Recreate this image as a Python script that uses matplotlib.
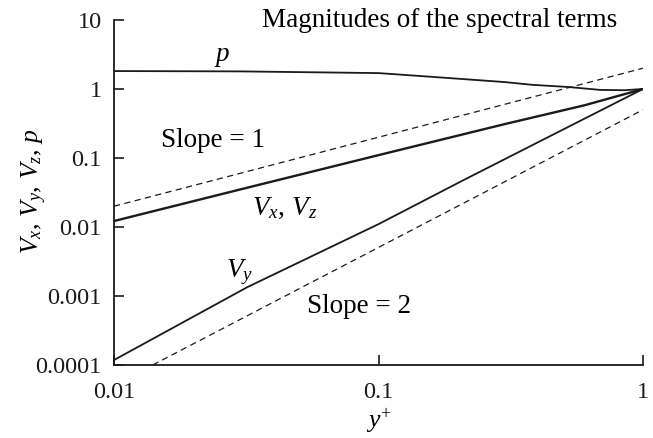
import matplotlib
matplotlib.use("Agg")
import matplotlib.pyplot as plt

plt.rcParams['font.family'] = ['Liberation Serif', 'DejaVu Serif']
plt.rcParams['mathtext.fontset'] = 'custom'
plt.rcParams['mathtext.rm'] = 'Liberation Serif'
plt.rcParams['mathtext.it'] = 'Liberation Serif:italic'

# Data
x_p = [0.01, 0.03, 0.1, 0.12, 0.216, 0.3, 0.38, 0.52, 0.69, 0.85, 1.0]
p_vals = [1.82, 1.80, 1.70, 1.62, 1.38, 1.26, 1.15, 1.07, 0.97, 0.96, 1.0]

x_vxz = [0.01, 0.03, 0.1, 0.3, 0.6, 1.0]
vxz_vals = [0.0122, 0.035, 0.11, 0.31, 0.58, 1.0]

x_vy = [0.01, 0.032, 0.1, 0.21, 0.5, 1.0]
vy_vals = [1.18e-4, 0.00135, 0.011, 0.048, 0.26, 1.0]

x_s1 = [0.01, 1.0]
s1_vals = [0.02, 2.0]
x_s2 = [0.014, 1.0]
s2_vals = [1e-4, 0.5]

xticks = [0.01, 0.1, 1]
xtick_labels = ['0.01', '0.1', '1']
yticks = [1e-4, 1e-3, 1e-2, 1e-1, 1, 10]
ytick_labels = ['0.0001', '0.001', '0.01', '0.1', '1', '10']

fig = plt.figure(figsize=(6.53, 4.38), dpi=100)
ax = fig.add_axes([114/653, 1-365/438, (643-114)/653, (365-20)/438])

ink = '#1a1a1a'
ax.plot(x_p, p_vals, color=ink, lw=1.3)
ax.plot(x_vxz, vxz_vals, color=ink, lw=1.7)
ax.plot(x_vy, vy_vals, color=ink, lw=1.3)
ax.plot(x_s1, s1_vals, color=ink, lw=0.9, dashes=(5, 3.5))
ax.plot(x_s2, s2_vals, color=ink, lw=0.9, dashes=(5, 3.5))

ax.set_xscale('log')
ax.set_yscale('log')
ax.set_xlim(0.01, 1)
ax.set_ylim(1e-4, 10)
ax.set_xticks(xticks)
ax.set_xticklabels(xtick_labels)
ax.set_yticks(yticks)
ax.set_yticklabels(ytick_labels)
ax.minorticks_off()
ax.tick_params(direction='in', length=7, width=1.2, labelsize=17.5, colors=ink)
ax.tick_params(axis='x', pad=12)
ax.tick_params(axis='y', pad=9)
for s in ['top', 'right']:
    ax.spines[s].set_visible(False)
for s in ['left', 'bottom']:
    ax.spines[s].set_linewidth(1.3)
    ax.spines[s].set_color(ink)

fs = 19.5
ax.text(0.0256, 3.0, r'$p$', fontsize=fs, ha='center', va='center')
ax.text(0.01506, 0.144, 'Slope = 1', fontsize=fs, ha='left', va='baseline')
ax.text(0.0443, 0.0188, r'$V_x,\,V_z$', fontsize=fs, ha='center', va='center')
ax.text(0.0297, 0.00223, r'$V_y$', fontsize=fs, ha='center', va='center')
ax.text(0.0537, 5.7e-4, 'Slope = 2', fontsize=fs, ha='left', va='baseline')

fig.text(440/653, 1-27/438, 'Magnitudes of the spectral terms', fontsize=fs,
         ha='center', va='baseline')
ax.set_xlabel(r'$y^{+}$', fontsize=18.5)
ax.xaxis.set_label_coords(0.5, -0.122)
ax.set_ylabel(r'$V_x,\,V_y,\,V_z,\,p$', fontsize=18.5)
ax.yaxis.set_label_coords(-0.123, 0.504)

fig.savefig('out.png', dpi=100)
